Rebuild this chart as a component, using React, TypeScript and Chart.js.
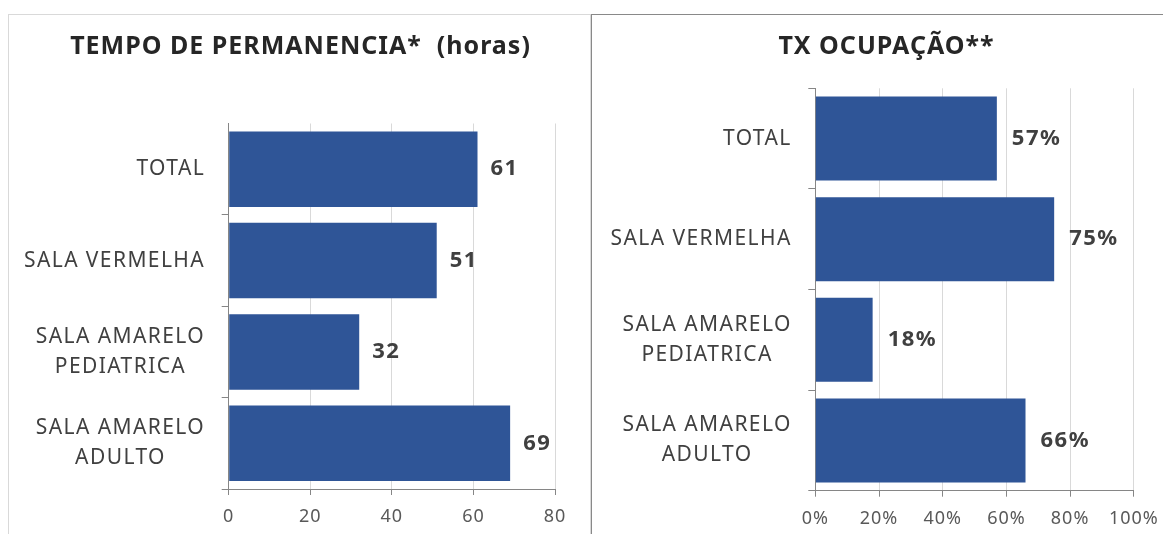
import React, { useEffect, useRef } from 'react';
import { Chart, registerables } from 'chart.js';

Chart.register(...registerables);

const FONT = "'Noto Sans', sans-serif";

const categories: string[][] = [
  ['TOTAL'],
  ['SALA VERMELHA'],
  ['SALA AMARELO', 'PEDIATRICA'],
  ['SALA AMARELO', 'ADULTO'],
];
const permanenciaHoras = [61, 51, 32, 69];
const ocupacaoPct = [57, 75, 18, 66];
const permanenciaTicks = [0, 20, 40, 60, 80];
const ocupacaoTicks = [0, 20, 40, 60, 80, 100];
const titlePermanencia = 'TEMPO DE PERMANENCIA*  (horas)';
const titleOcupacao = 'TX OCUPAÇÃO**';

const BAR_COLOR = '#2F5597';

const labelsPlugin = {
  id: 'catLabels',
  beforeDraw(chart: any) {
    (chart.ctx as any).letterSpacing = '1px';
  },
  afterDraw(chart: any, _args: any, o: any) {
    const ctx = chart.ctx as CanvasRenderingContext2D;
    const yScale = chart.scales.y;
    ctx.save();
    // title
    ctx.font = `bold ${o.titleSize}px ${FONT}`;
    (ctx as any).letterSpacing = `${o.titleSpacing}px`;
    ctx.fillStyle = '#262626';
    ctx.textAlign = 'center';
    ctx.textBaseline = 'middle';
    ctx.fillText(o.title, chart.width / 2 + o.titleSpacing / 2, o.titleY);
    // category labels
    ctx.font = `${o.size}px ${FONT}`;
    (ctx as any).letterSpacing = `${o.spacing}px`;
    ctx.fillStyle = '#404040';
    const right = chart.chartArea.left - o.gap + o.spacing;
    (chart.data.labels as any[]).forEach((lab, i) => {
      const lines: string[] = Array.isArray(lab) ? lab : [lab];
      const w = Math.max(...lines.map((l) => ctx.measureText(l).width));
      const cx = right - w / 2;
      const cy = yScale.getPixelForValue(i);
      lines.forEach((l, j) =>
        ctx.fillText(l, cx, cy + (j - (lines.length - 1) / 2) * o.lineHeight)
      );
    });
    // value labels
    ctx.font = `bold ${o.valueSize}px ${FONT}`;
    (ctx as any).letterSpacing = `${o.valueSpacing}px`;
    ctx.textAlign = 'left';
    const meta = chart.getDatasetMeta(0);
    const data = chart.data.datasets[0].data as number[];
    meta.data.forEach((el: any, i: number) => {
      ctx.fillText(`${data[i]}${o.suffix}`, el.x + o.valueGap, el.y);
    });
    ctx.restore();
  },
};

interface Cfg {
  title: string;
  values: number[];
  ticks: number[];
  suffix: string;
  padLeft: number;
  padRight: number;
  padTop: number;
  xHeight: number;
  catPct: number;
  valueGap: number;
  hideTopTick: boolean;
}

function BarPanel({ cfg, width, height }: { cfg: Cfg; width: number; height: number }) {
  const ref = useRef<HTMLCanvasElement>(null);
  useEffect(() => {
    if (!ref.current) return;
    const tickMin = cfg.ticks[0];
    const tickMax = cfg.ticks[cfg.ticks.length - 1];
    const step = cfg.ticks[1] - cfg.ticks[0];
    const chart = new Chart(ref.current, {
      type: 'bar',
      data: {
        labels: categories,
        datasets: [
          {
            data: cfg.values,
            backgroundColor: BAR_COLOR,
            borderWidth: 0,
            categoryPercentage: cfg.catPct,
            barPercentage: 1,
          },
        ],
      },
      plugins: [labelsPlugin],
      options: {
        responsive: false,
        animation: false,
        devicePixelRatio: 1,
        indexAxis: 'y',
        layout: { padding: { left: cfg.padLeft, right: cfg.padRight, top: cfg.padTop, bottom: 0 } },
        plugins: {
          legend: { display: false },
          tooltip: { enabled: false },
          title: { display: false },
          catLabels: {
            title: cfg.title,
            titleSize: 25,
            titleSpacing: 1,
            titleY: 32,
            size: 21,
            spacing: 1.4,
            lineHeight: 30,
            gap: 25,
            valueSize: 22,
            valueSpacing: 1.5,
            valueGap: cfg.valueGap,
            suffix: cfg.suffix,
          },
        } as any,
        scales: {
          x: {
            min: tickMin,
            max: tickMax,
            ticks: {
              stepSize: step,
              color: '#595959',
              font: { family: FONT, size: 18 },
              padding: 11,
              callback: (v: any) => `${v}${cfg.suffix}`,
            },
            grid: { color: '#D9D9D9', tickColor: '#868686', tickLength: 6, lineWidth: 1 },
            border: { color: '#868686' },
            afterFit: (s: any) => {
              s.height = cfg.xHeight;
            },
          },
          y: {
            ticks: { display: false },
            grid: {
              drawOnChartArea: false,
              tickLength: 7,
              color: (c: any) => (cfg.hideTopTick && c.index === 0 ? 'rgba(0,0,0,0)' : '#868686'),
            },
            border: { color: '#868686' },
            afterFit: (s: any) => {
              s.width = 7;
            },
          },
        },
      },
    });
    return () => chart.destroy();
  }, []);
  return <canvas ref={ref} width={width} height={height} style={{ display: 'block' }} />;
}

const leftCfg: Cfg = {
  title: titlePermanencia,
  values: permanenciaHoras,
  ticks: permanenciaTicks,
  suffix: '',
  padLeft: 212.7,
  padRight: 36,
  padTop: 108.5,
  xHeight: 45,
  catPct: 0.827,
  valueGap: 13,
  hideTopTick: true,
};

const rightCfg: Cfg = {
  title: titleOcupacao,
  values: ocupacaoPct,
  ticks: ocupacaoTicks,
  suffix: '%',
  padLeft: 216.3,
  padRight: 46.2,
  padTop: 73.3,
  xHeight: 43.3,
  catPct: 0.835,
  valueGap: 15,
  hideTopTick: false,
};

export default function App() {
  return (
    <div
      style={{
        position: 'relative',
        width: 1163,
        height: 526,
        overflow: 'hidden',
        background: '#fff',
      }}
    >
      <div
        style={{
          position: 'absolute',
          left: 0,
          top: 6,
          width: 583,
          height: 600,
          boxSizing: 'border-box',
          border: '1px solid #D9D9D9',
        }}
      />
      <div
        style={{
          position: 'absolute',
          left: 583,
          top: 6,
          width: 700,
          height: 600,
          boxSizing: 'border-box',
          border: '1px solid #898989',
        }}
      />
      <div style={{ position: 'absolute', left: 1, top: 7 }}>
        <BarPanel cfg={leftCfg} width={582} height={519} />
      </div>
      <div style={{ position: 'absolute', left: 584, top: 7 }}>
        <BarPanel cfg={rightCfg} width={588} height={519} />
      </div>
    </div>
  );
}
